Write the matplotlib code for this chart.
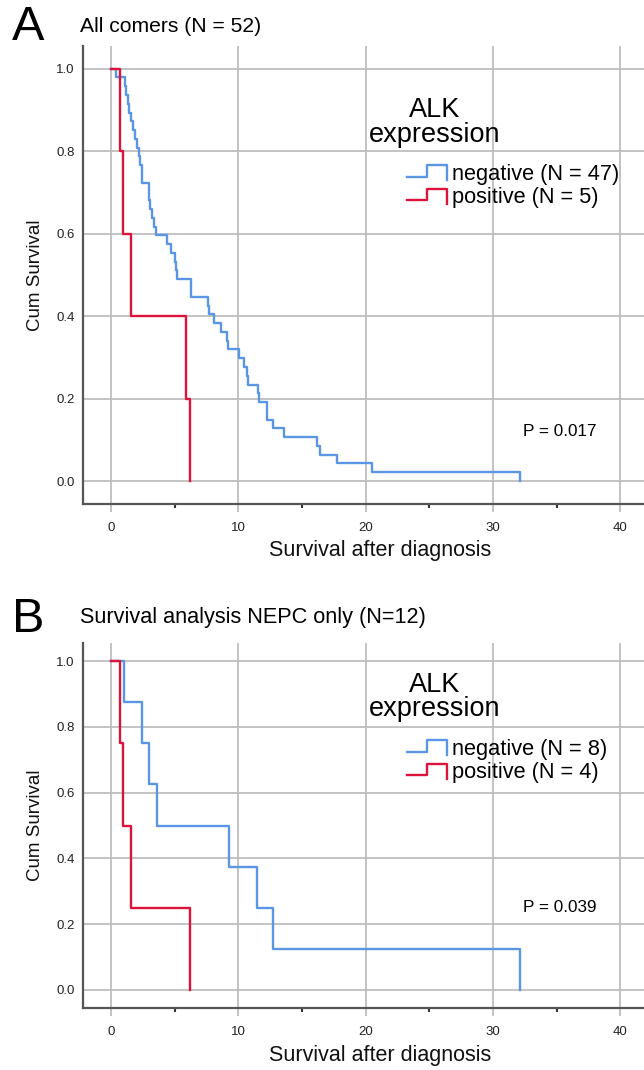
import numpy as np
import matplotlib
matplotlib.use('Agg')
import matplotlib.pyplot as plt
from matplotlib.lines import Line2D
from matplotlib.legend_handler import HandlerBase
from matplotlib.ticker import FormatStrFormatter

plt.rcParams['font.family'] = ['Liberation Sans', 'DejaVu Sans']

# Death times (months) read from the Kaplan-Meier steps, no censoring visible
neg_a_times = [0.39, 1.10, 1.20, 1.37, 1.40, 1.55, 1.76, 1.90, 2.05, 2.20, 2.28, 2.41, 2.45,
               2.95, 3.00, 3.05, 3.20, 3.37, 3.55, 4.40, 4.69, 5.03, 5.10, 5.22, 6.26, 6.31,
               7.64, 7.70, 8.09, 8.62, 9.14, 9.20, 10.05, 10.44, 10.70, 10.80, 11.57, 11.65,
               12.23, 12.28, 12.75, 13.62, 16.16, 16.42, 17.73, 20.48, 32.13]
pos_a_times = [0.71, 0.97, 1.55, 5.87, 6.20]
neg_b_times = [1.05, 2.41, 2.99, 3.64, 9.27, 11.50, 12.75, 32.13]
pos_b_times = [0.71, 0.97, 1.55, 6.20]

panels = [
    dict(letter='A', title='All comers (N = 52)', neg=neg_a_times, pos=pos_a_times, p='P = 0.017', tsize=15.2),
    dict(letter='B', title='Survival analysis NEPC only (N=12)', neg=neg_b_times, pos=pos_b_times, p='P = 0.039', tsize=15.6),
]

BLUE = '#5A96E3'
RED = '#DC143C'
GRID = '#BEBEBE'
SPINE = '#555555'

W, H = 644, 1070


def km(times):
    t = np.sort(np.asarray(times, dtype=float))
    n = len(t)
    s = 1.0 - np.arange(1, n + 1) / n
    return np.concatenate([[0.0], t]), np.concatenate([[1.0], s])


class StepHandler(HandlerBase):
    def create_artists(self, legend, orig_handle, xdescent, ydescent, width, height, fontsize, trans):
        x0, y0 = -xdescent, -ydescent
        xs = [x0, x0 + width / 2, x0 + width / 2, x0 + width, x0 + width]
        ys = [y0 + 0.2 * height, y0 + 0.2 * height, y0 + 0.95 * height, y0 + 0.95 * height, y0 - 0.05 * height]
        ln = Line2D(xs, ys, color=orig_handle.get_color(), lw=orig_handle.get_linewidth())
        ln.set_transform(trans)
        return [ln]


fig = plt.figure(figsize=(W / 100, H / 100), dpi=100)

# axes boxes in pixels: (left, top, bottom)
boxes = [(83, 46, 503.7), (83, 643, 1008)]
text_y = [(27, 26), (620, 617)]

for k, (pan, (left, top, bottom)) in enumerate(zip(panels, boxes)):
    ax = fig.add_axes([left / W, 1 - bottom / H, 1 - left / W, (bottom - top) / H])
    hpx = bottom - top

    x, s = km(pan['neg'])
    ln_neg, = ax.step(x, s, where='post', color=BLUE, lw=1.7, label='negative (N = %d)' % len(pan['neg']))
    x, s = km(pan['pos'])
    ln_pos, = ax.step(x, s, where='post', color=RED, lw=1.7, label='positive (N = %d)' % len(pan['pos']))

    ax.set_xlim(-2.2, 41.87)
    ax.set_ylim(-0.055, 1.055)
    ax.set_xticks(np.arange(0, 41, 10))
    ax.set_xticks(np.arange(5, 40, 10), minor=True)
    ax.set_yticks(np.arange(0, 1.01, 0.2))
    ax.yaxis.set_major_formatter(FormatStrFormatter('%.1f'))
    ax.grid(True, which='major', color=GRID, lw=1.3)
    ax.set_axisbelow(True)
    for side in ['top', 'right']:
        ax.spines[side].set_visible(False)
    for side in ['left', 'bottom']:
        ax.spines[side].set_color(SPINE)
        ax.spines[side].set_linewidth(1.6)
    ax.tick_params(axis='x', which='major', length=6, width=1.3, color=GRID, pad=7, labelsize=9.5, labelcolor='#222222')
    ax.tick_params(axis='x', which='minor', length=3, width=1.5, color='#333333')
    ax.tick_params(axis='y', length=0, pad=6, labelsize=9.5, labelcolor='#222222')

    ax.set_xlabel('Survival after diagnosis', fontsize=15.5, color='#111111')
    ax.xaxis.set_label_coords((380 - left) / (W - left), -47 / hpx)
    ax.xaxis.label.set_verticalalignment('center')
    ax.set_ylabel('Cum Survival', fontsize=13.5, color='#111111')
    ax.yaxis.set_label_coords((35 - left) / (W - left), 0.5)
    ax.yaxis.label.set_verticalalignment('center')

    # legend header and entries
    row_center = (186 - 46) if k == 0 else (761 - 643)
    ax.text((435 - left) / (W - left), 1 - (row_center - 64) / hpx, 'ALK\nexpression',
            transform=ax.transAxes, ha='center', va='center', fontsize=19.5, linespacing=0.95)
    ax.legend(handles=[ln_neg, ln_pos], handler_map={Line2D: StepHandler()},
              loc='center left', bbox_to_anchor=((407 - left) / (W - left), 1 - row_center / hpx),
              frameon=False, fontsize=15.7, handlelength=1.85, handletextpad=0.22,
              labelspacing=0.12, borderpad=0, borderaxespad=0)

    p_y = 432 if k == 0 else 907
    ax.text((523 - left) / (W - left), (bottom - p_y) / hpx, pan['p'], transform=ax.transAxes,
            ha='left', va='center', fontsize=12.3)

    ly, ty = text_y[k]
    fig.text(12 / W, 1 - ly / H, pan['letter'], fontsize=35, ha='left', va='center')
    fig.text(80 / W, 1 - ty / H, pan['title'], fontsize=pan['tsize'], ha='left', va='center')

fig.savefig('out.png', dpi=100)
